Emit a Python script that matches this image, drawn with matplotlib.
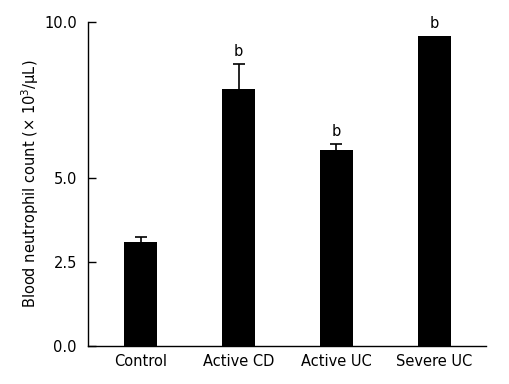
import numpy as np
import matplotlib
matplotlib.use('Agg')
import matplotlib.pyplot as plt

groups = ['Control', 'Active CD', 'Active UC', 'Severe UC']
means = [3.1, 7.84, 5.9, 9.55]
errs = [0.15, 0.81, 0.18, 0.0]
marks = ['', 'b', 'b', 'b']
yticks = [0.0, 2.5, 5.0, 10.0]

plt.rcParams['font.family'] = ['DejaVu Sans']


# the axis in the original is not quite linear: 5-10 is squeezed a bit
def fwd(y):
    y = np.asarray(y, dtype=float)
    return np.where(y <= 5, y * 33.6, 168 + (y - 5) * 31.2)


def inv(v):
    v = np.asarray(v, dtype=float)
    return np.where(v <= 168, v / 33.6, 5 + (v - 168) / 31.2)


fig = plt.figure(figsize=(5.09, 3.84), dpi=100)
fig.patch.set_facecolor('white')
ax = fig.add_axes([0.1729, 0.099, 0.7819, 0.8437])

x = np.arange(len(groups))
ax.bar(x, means, width=0.335, color='black', zorder=2)

# only the upper half of the error bars, and none where sem is zero
has_err = [i for i, e in enumerate(errs) if e > 0]
xe = x[has_err]
me = np.array(means)[has_err]
ee = np.array(errs)[has_err]
_, caps, _ = ax.errorbar(xe, me, yerr=[np.zeros(len(ee)), ee], fmt='none',
                         ecolor='black', elinewidth=1.2, capsize=4,
                         capthick=1.2, zorder=1)
caps[0].remove()

for xi, m, e, t in zip(x, means, errs, marks):
    if t:
        ax.annotate(t, (xi, m + e), xytext=(0, 6), textcoords='offset points',
                    ha='center', va='baseline', fontsize=10.5)

ax.set_yscale('function', functions=(fwd, inv))
ax.set_ylim(0, 10)
ax.set_xlim(-0.54, 3.53)
ax.set_yticks(yticks)
ax.set_yticklabels(['0.0', '2.5', '5.0', '10.0'])
ax.yaxis.set_minor_locator(matplotlib.ticker.NullLocator())
ax.tick_params(axis='y', direction='in', length=6, width=1, labelsize=10.5, pad=8)
ax.tick_params(axis='x', length=0, labelsize=10.5, pad=6)
ax.set_xticks(x)
ax.set_xticklabels(groups)

ax.spines['top'].set_visible(False)
ax.spines['right'].set_visible(False)
ax.spines['left'].set_linewidth(1)
ax.spines['bottom'].set_linewidth(1)

ax.set_ylabel('Blood neutrophil count (× 10$^3$/μL)', fontsize=10.5, labelpad=2)

plt.savefig('out.png', dpi=100)
